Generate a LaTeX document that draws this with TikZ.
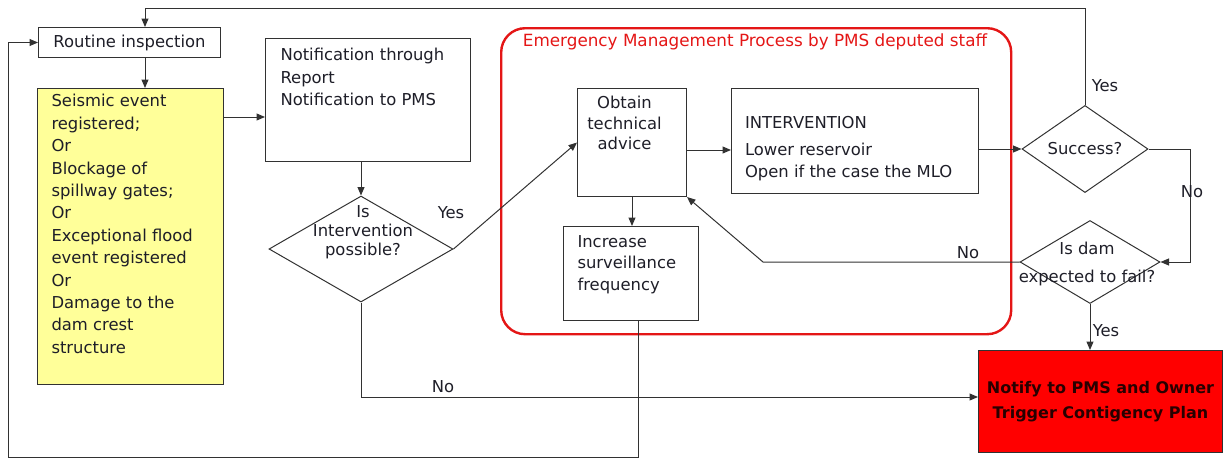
\documentclass[tikz,border=0pt]{standalone}
\usepackage{fontspec}
\setmainfont{DejaVu Sans}
\usetikzlibrary{arrows.meta,shapes.geometric}
\definecolor{evyellow}{RGB}{255,255,153}
\definecolor{lncol}{RGB}{50,50,50}
\definecolor{alarm}{RGB}{255,0,0}
\definecolor{alarmtext}{RGB}{40,0,0}
\definecolor{empred}{RGB}{228,22,22}
\definecolor{txt}{RGB}{30,30,40}
\newcommand{\boxtext}[4]{\begin{minipage}[c][#2][t]{#1}\vspace*{#3}#4\end{minipage}}
\begin{document}
\begin{tikzpicture}[x=1pt,y=-1pt,
  every node/.style={font=\fontsize{16.4}{22.4}\selectfont, text=txt},
  box/.style={draw=lncol, line width=1pt, inner sep=0pt, anchor=north west},
  cond/.style={draw=lncol, line width=1pt, diamond, inner sep=0pt},
  arr/.style={draw=lncol, line width=1pt, -{Triangle[length=8.5pt,width=7pt]}},
  lbl/.style={inner sep=1pt}
]
\useasboundingbox (0,0) rectangle (1224,459);

% emergency container
\node[box, draw=empred, line width=2.4pt, rounded corners=24pt, minimum width=510pt, minimum height=306pt] (emp) at (500,27) {};
\node[text=empred, font=\fontsize{16.8}{20}\selectfont] (empt) at (755,42) {Emergency Management Process by PMS deputed staff};

% boxes
\node[box, minimum width=182pt, minimum height=30pt] (routine) at (38,27) {Routine inspection};
\node[box, fill=evyellow, minimum width=186pt, minimum height=296pt] (events) at (37,88)
  {\boxtext{158pt}{294pt}{5pt}{Seismic event\\registered;\\Or\\Blockage of\\spillway gates;\\Or\\Exceptional flood\\event registered\\Or\\Damage to the\\dam crest\\structure}};
\node[box, minimum width=205pt, minimum height=123pt] (notif) at (265,38)
  {\boxtext{175pt}{121pt}{9pt}{Notification through\\Report\\Notification to PMS}};
\node[box, minimum width=109pt, minimum height=108pt] (advice) at (577,88)
  {\boxtext{92pt}{106pt}{7pt}{\centering\baselineskip=20.5pt Obtain\\technical\\advice\par}\hspace*{15pt}};
\node[box, minimum width=247pt, minimum height=105pt] (interv) at (731,88)
  {\boxtext{220pt}{103pt}{27pt}{INTERVENTION\\[4pt]Lower reservoir\\Open if the case the MLO}};
\node[box, minimum width=135pt, minimum height=94pt] (surv) at (563,226)
  {\boxtext{107pt}{92pt}{8pt}{\baselineskip=21.5pt Increase\\surveillance\\frequency}};
\node[box, fill=alarm, minimum width=244pt, minimum height=102pt, align=center,
  font=\bfseries\fontsize{16}{25}\selectfont, text=alarmtext] (notify) at (978,350)
  {Notify to PMS and Owner\\Trigger Contigency Plan};

% decisions
\node[cond, minimum width=184pt, minimum height=106pt] (canint) at (361,249) {};
\node[align=center, font=\fontsize{16.4}{19}\selectfont] (caninttext) at (363,232) {Is\\Intervention\\possible?};
\node[cond, minimum width=126pt, minimum height=77pt] (success) at (1085,149) {Success?};
\node[cond, minimum width=140pt, minimum height=83pt] (fail) at (1090,262) {};
\node[align=center, font=\fontsize{16.4}{28}\selectfont] (failtext) at (1087,264) {Is dam\\expected to fail?};

% helper coordinates
\coordinate (tx) at (145,8);
\coordinate (ya) at (0,117);
\coordinate (ob) at (0,150);
\coordinate (rx) at (1190,0);
\coordinate (nk) at (763,0);
\coordinate (ny) at (0,397);
\coordinate (sx) at (638,0);
\coordinate (lb) at (8,457);

% connectors
\draw[arr] (success.north) |- (tx) -- (tx |- routine.north);
\draw[arr] (tx |- routine.south) -- (tx |- events.north);
\draw[arr] (events.east |- ya) -- (notif.west |- ya);
\draw[arr] (canint.north |- notif.south) -- (canint.north);
\draw[arr] (canint.east) -- (advice.west);
\draw[arr] (advice.east |- ob) -- (interv.west |- ob);
\draw[arr] (interv.east |- success.west) -- (success.west);
\draw[arr] (success.east) -| (rx |- fail.east) -- (fail.east);
\draw[arr] (fail.west) -- (fail.west -| nk) -- (advice.south east);
\draw[arr] (fail.south) -- (fail.south |- notify.north);
\draw[arr] (advice.south) -- (advice.south |- surv.north);
\draw[arr] (canint.south) |- (notify.west |- ny);
\draw[arr] (sx |- surv.south) |- (lb) |- (routine.west);

% labels
\node[lbl] (yes1) at (451,213) {Yes};
\node[lbl] (no1) at (443,387) {No};
\node[lbl] (yes2) at (1105,86) {Yes};
\node[lbl] (no2) at (1192,192) {No};
\node[lbl] (no3) at (968,253) {No};
\node[lbl] (yes3) at (1106,331) {Yes};
\end{tikzpicture}
\end{document}
